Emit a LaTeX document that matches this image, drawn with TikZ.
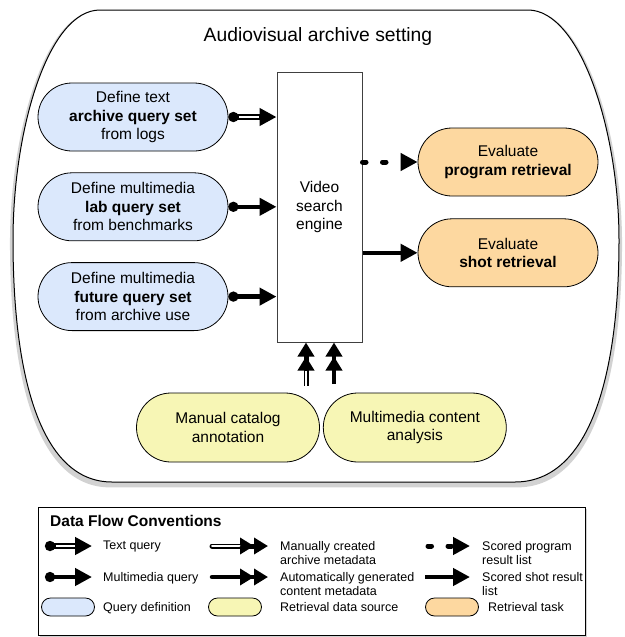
\documentclass[tikz,border=0pt]{standalone}
\usepackage{fontspec}
\setmainfont{Liberation Sans}
\usetikzlibrary{arrows.meta,positioning,shapes.misc,shadows}
\definecolor{QueryBlue}{HTML}{DBE8FC}
\definecolor{SourceYellow}{HTML}{F7F6B5}
\definecolor{TaskOrange}{HTML}{FDD8A0}
\definecolor{EngineGray}{HTML}{404040}

\begin{document}
\begin{tikzpicture}[x=1pt,y=-1pt,
    capsule/.style={rounded rectangle,draw=black,line width=0.8pt,align=center,
      inner sep=0pt,font={\fontsize{15.5}{18.5}\selectfont}},
    query/.style={capsule,fill=QueryBlue,minimum width=190pt,minimum height=68pt},
    task/.style={capsule,fill=TaskOrange,minimum width=180pt,minimum height=68pt},
    source/.style={capsule,fill=SourceYellow,minimum width=183pt,minimum height=69pt},
    keybox/.style={rounded rectangle,draw=black,line width=0.8pt,
      minimum width=53pt,minimum height=18pt,inner sep=0pt},
    keytext/.style={anchor=north west,align=left,inner sep=0pt,
      font={\fontsize{12.5}{14.5}\selectfont}},
    qhead/.tip={Triangle[length=17pt,width=17pt]},
    qtwohead/.tip={Triangle[length=14pt,width=16pt,sep=0pt]Triangle[length=14pt,width=16pt]},
    qdot/.tip={Circle[length=10pt]},
    txtarr/.style={line width=6pt,qdot-qhead,
      postaction={draw=white,line width=2.6pt,arrows=-,shorten <=11pt,shorten >=17.5pt}},
    mmarr/.style={line width=4.5pt,qdot-qhead},
    shotarr/.style={line width=4.5pt,-qhead},
    progarr/.style={line width=5pt,line cap=round,dash pattern=on 3.5pt off 16.5pt,-qhead},
    manualarr/.style={line width=5pt,-qtwohead,
      postaction={draw=white,line width=2pt,arrows=-,shorten >=28.5pt}},
    manualkey/.style={manualarr,line cap=round},
    autoarr/.style={line width=4.5pt,line cap=round,-qtwohead}
  ]
  \path[fill=white,use as bounding box] (0,0) rectangle (624,637);

  \draw[line width=1pt,fill=white,
    drop shadow={opacity=0.35,shadow xshift=0pt,shadow yshift=-3pt,shadow scale=1.01}]
    (100,10) -- (528,10) .. controls (580,10) and (619,130) .. (619,240)
    .. controls (619,380) and (588,482) .. (515,482) -- (112,482)
    .. controls (42,482) and (13,380) .. (13,240)
    .. controls (13,130) and (48,10) .. (100,10) -- cycle;
  \node[font={\fontsize{19.3}{23}\selectfont}] (setting) at (318,37) {Audiovisual archive setting};

  \node[draw=EngineGray,line width=1pt,fill=white,minimum width=85pt,minimum height=270pt,
    align=center,inner sep=0pt,font={\fontsize{15.5}{18.5}\selectfont}] (engine) at (319.5,207)
    {Video\\search\\engine};

  \node[query] (q1) at (133,117) {Define text\\\textbf{archive query set}\\from logs};
  \node[query,below=21pt of q1] (q2) {Define multimedia\\\textbf{lab query set}\\from benchmarks};
  \node[query,below=21pt of q2] (q3) {Define multimedia\\\textbf{future query set}\\from archive use};

  \node[task] (t1) at (508,162) {Evaluate\\\textbf{program retrieval}};
  \node[task,below=22pt of t1] (t2) {Evaluate\\\textbf{shot retrieval}};

  \node[source] (s1) at (228,427.5) {Manual catalog\\annotation};
  \node[source,right=3pt of s1] (s2) {Multimedia content\\analysis};

  \draw[txtarr] (q1.east) -- (q1 -| engine.west);
  \foreach \q in {q2,q3}\draw[mmarr] (\q.east) -- (\q -| engine.west);
  \draw[progarr] (engine.east |- t1) -- (t1.west);
  \draw[shotarr] (engine.east |- t2) -- (t2.west);

  \coordinate (inL) at ([xshift=-13.5pt]engine.south);
  \coordinate (inR) at ([xshift=14.5pt]engine.south);
  \draw[manualarr,shorten <=7pt] (inL |- s1.north) -- (inL);
  \draw[autoarr,line cap=butt,shorten <=8.5pt] (inR |- s2.north) -- (inR);

  \node[draw=black,line width=0.8pt,fill=white,inner sep=0pt,anchor=north west,
    minimum width=547pt,minimum height=128pt,
    drop shadow={opacity=0.35,shadow xshift=2pt,shadow yshift=-2pt}] (legend) at (38,507) {};
  \node[anchor=west,inner sep=0pt,font={\bfseries\fontsize{15.5}{18}\selectfont}]
    (keytitle) at (50,521) {Data Flow Conventions};

  \node[keytext] (txtkey) at (103,541) {Text query};
  \node[keytext] (mmkey) at (103,572) {Multimedia query};
  \node[keytext] (qkey) at (103,602) {Query definition};
  \node[keytext] (mankey) at (280,541) {Manually created\\archive metadata};
  \node[keytext] (autokey) at (280,572) {Automatically generated\\content metadata};
  \node[keytext] (srckey) at (280,602) {Retrieval data source};
  \node[keytext] (progkey) at (482,541) {Scored program\\result list};
  \node[keytext] (shotkey) at (482,572) {Scored shot result\\list};
  \node[keytext] (taskkey) at (488,602) {Retrieval task};

  \node[keybox,fill=QueryBlue] (qbox) at (68,607) {};
  \node[keybox,fill=SourceYellow] (srcbox) at (235,607) {};
  \node[keybox,fill=TaskOrange] (taskbox) at (452,607) {};

  \foreach \n/\s/\a/\b/\y in {ka/txtarr/45/92/546,kb/mmarr/45/92/577,
      kc/manualkey/212/268/546,kd/autoarr/212/268/577,
      ke/progarr/428/470/546,kf/shotarr/425/470/577}{
    \coordinate (\n0) at (\a,\y);
    \coordinate (\n1) at (\b,\y);
    \draw[\s] (\n0) -- (\n1);
  }
\end{tikzpicture}
\end{document}
